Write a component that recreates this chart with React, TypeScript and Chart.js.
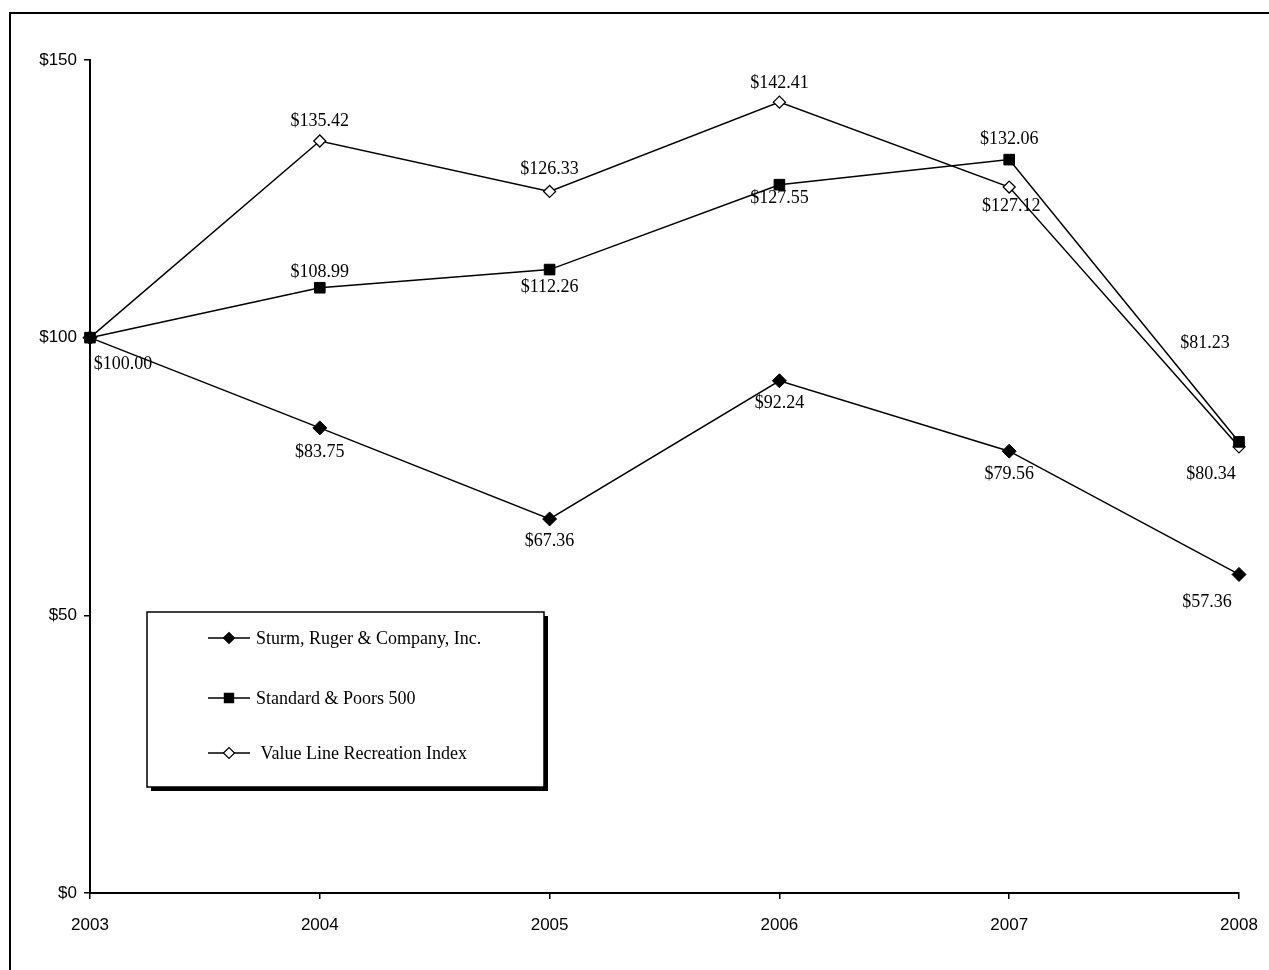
import React, { useEffect, useRef } from "react";
import { Chart, registerables } from "chart.js";

Chart.register(...registerables);

const years = ["2003", "2004", "2005", "2006", "2007", "2008"];
const sturmRuger = [100.0, 83.75, 67.36, 92.24, 79.56, 57.36];
const sp500 = [100.0, 108.99, 112.26, 127.55, 132.06, 81.23];
const valueLine = [100.0, 135.42, 126.33, 142.41, 127.12, 80.34];
const seriesNames = [
  "Sturm, Ruger & Company, Inc.",
  "Standard & Poors 500",
  " Value Line Recreation Index",
];
const yTicks = [0, 50, 100, 150];

// label placement (pixel offsets from the point), null = no label
const sturmLabelOffsets: ([number, number] | null)[] = [
  [33, 27], [0, 24], [0, 22], [0, 23], [0, 23], [-32, 28],
];
const spLabelOffsets: ([number, number] | null)[] = [
  null, [0, -15], [0, 18], [0, 14], [0, -20], [-34, -99],
];
const vlLabelOffsets: ([number, number] | null)[] = [
  null, [0, -20], [0, -22], [0, -19], [2, 19], [-28, 27],
];
const labelOffsets = [sturmLabelOffsets, spLabelOffsets, vlLabelOffsets];

const SERIF = "'Liberation Serif', 'Times New Roman', serif";
const SANS = "'Liberation Sans', Arial, sans-serif";

function drawMarker(ctx: CanvasRenderingContext2D, kind: number, x: number, y: number, r: number) {
  ctx.save();
  ctx.beginPath();
  if (kind === 1) {
    const s = r * Math.SQRT1_2;
    ctx.rect(x - s, y - s, 2 * s, 2 * s);
    ctx.fillStyle = "#000";
  } else {
    ctx.moveTo(x - r, y);
    ctx.lineTo(x, y - r);
    ctx.lineTo(x + r, y);
    ctx.lineTo(x, y + r);
    ctx.closePath();
    ctx.fillStyle = kind === 0 ? "#000" : "#fff";
  }
  ctx.fill();
  ctx.lineWidth = 1.2;
  ctx.strokeStyle = "#000";
  ctx.stroke();
  ctx.restore();
}

const framePlugin = {
  id: "frame",
  beforeDraw(chart: any) {
    const ctx = chart.ctx as CanvasRenderingContext2D;
    ctx.save();
    ctx.fillStyle = "#fff";
    ctx.fillRect(0, 0, chart.width, chart.height);
    ctx.lineWidth = 2;
    ctx.strokeStyle = "#000";
    ctx.strokeRect(10, 13, chart.width + 50, chart.height + 50);
    ctx.restore();
  },
};

const labelsPlugin = {
  id: "valueLabels",
  afterDatasetsDraw(chart: any) {
    const ctx = chart.ctx as CanvasRenderingContext2D;
    ctx.save();
    ctx.font = `18px ${SERIF}`;
    ctx.fillStyle = "#000";
    ctx.textAlign = "center";
    ctx.textBaseline = "middle";
    chart.data.datasets.forEach((ds: any, di: number) => {
      const meta = chart.getDatasetMeta(di);
      meta.data.forEach((pt: any, i: number) => {
        const off = labelOffsets[di][i];
        if (!off) return;
        const v = ds.data[i] as number;
        ctx.fillText("$" + v.toFixed(2), pt.x + off[0], pt.y + off[1]);
      });
    });
    ctx.restore();
  },
};

const legendPlugin = {
  id: "boxLegend",
  afterDraw(chart: any) {
    const ctx = chart.ctx as CanvasRenderingContext2D;
    const ca = chart.chartArea;
    const x = ca.left + 57;
    const y = ca.top + 552;
    const w = 397;
    const h = 175;
    ctx.save();
    ctx.fillStyle = "#000";
    ctx.fillRect(x + 4, y + 4, w, h);
    ctx.fillStyle = "#fff";
    ctx.fillRect(x, y, w, h);
    ctx.lineWidth = 1.5;
    ctx.strokeStyle = "#000";
    ctx.strokeRect(x, y, w, h);
    const rows = [26, 86, 141];
    ctx.font = `18px ${SERIF}`;
    ctx.textAlign = "left";
    ctx.textBaseline = "middle";
    seriesNames.forEach((name, i) => {
      const cy = y + rows[i];
      ctx.beginPath();
      ctx.moveTo(x + 61, cy);
      ctx.lineTo(x + 103, cy);
      ctx.lineWidth = 1.5;
      ctx.strokeStyle = "#000";
      ctx.stroke();
      drawMarker(ctx, i, x + 82, cy, i === 1 ? 6.5 : 5.5);
      ctx.fillStyle = "#000";
      ctx.fillText(name, x + 109, cy + 1);
    });
    ctx.restore();
  },
};

export default function App() {
  const canvasRef = useRef<HTMLCanvasElement | null>(null);

  useEffect(() => {
    if (!canvasRef.current) return;
    const chart = new Chart(canvasRef.current, {
      type: "line",
      data: {
        labels: years,
        datasets: [
          {
            label: seriesNames[0],
            data: sturmRuger,
            borderColor: "#000",
            borderWidth: 1.5,
            pointStyle: "rectRot",
            pointRadius: 7,
            pointBackgroundColor: "#000",
            pointBorderColor: "#000",
            pointBorderWidth: 1,
            tension: 0,
          },
          {
            label: seriesNames[1],
            data: sp500,
            borderColor: "#000",
            borderWidth: 1.5,
            pointStyle: "rect",
            pointRadius: 7.5,
            pointBackgroundColor: "#000",
            pointBorderColor: "#000",
            pointBorderWidth: 1,
            tension: 0,
          },
          {
            label: seriesNames[2],
            data: valueLine,
            borderColor: "#000",
            borderWidth: 1.5,
            pointStyle: "rectRot",
            pointRadius: 6,
            pointBackgroundColor: "#fff",
            pointBorderColor: "#000",
            pointBorderWidth: 1.3,
            tension: 0,
          },
        ],
      },
      options: {
        animation: false,
        responsive: true,
        maintainAspectRatio: false,
        layout: { padding: { left: 0, right: 30, top: 60, bottom: 0 } },
        plugins: {
          legend: { display: false },
          tooltip: { enabled: false },
          title: { display: false },
        },
        scales: {
          x: {
            type: "category",
            offset: false,
            afterFit: (s: any) => {
              s.height = 77;
              s.paddingLeft = 0;
              s.paddingRight = 0;
            },
            grid: {
              display: true,
              drawOnChartArea: false,
              drawTicks: true,
              tickLength: 6,
              color: "#000",
              lineWidth: 1.5,
            },
            border: { display: true, color: "#000", width: 2 },
            ticks: {
              color: "#000",
              font: { family: SANS, size: 17 },
              padding: 16,
              maxRotation: 0,
              autoSkip: false,
            },
          },
          y: {
            min: 0,
            max: 150,
            afterFit: (s: any) => {
              s.width = 90;
              s.paddingTop = 0;
              s.paddingBottom = 0;
            },
            afterBuildTicks: (s: any) => {
              s.ticks = yTicks.map((v) => ({ value: v }));
            },
            grid: {
              display: true,
              drawOnChartArea: false,
              drawTicks: true,
              tickLength: 6,
              color: "#000",
              lineWidth: 1.5,
            },
            border: { display: true, color: "#000", width: 2 },
            ticks: {
              color: "#000",
              font: { family: SANS, size: 17 },
              padding: 7,
              callback: (v: any) => "$" + v,
            },
          },
        },
      },
      plugins: [framePlugin, labelsPlugin, legendPlugin],
    });
    return () => chart.destroy();
  }, []);

  return (
    <div style={{ position: "fixed", left: 0, top: 0, width: 1269, height: 970, background: "#fff" }}>
      <canvas ref={canvasRef} />
    </div>
  );
}
